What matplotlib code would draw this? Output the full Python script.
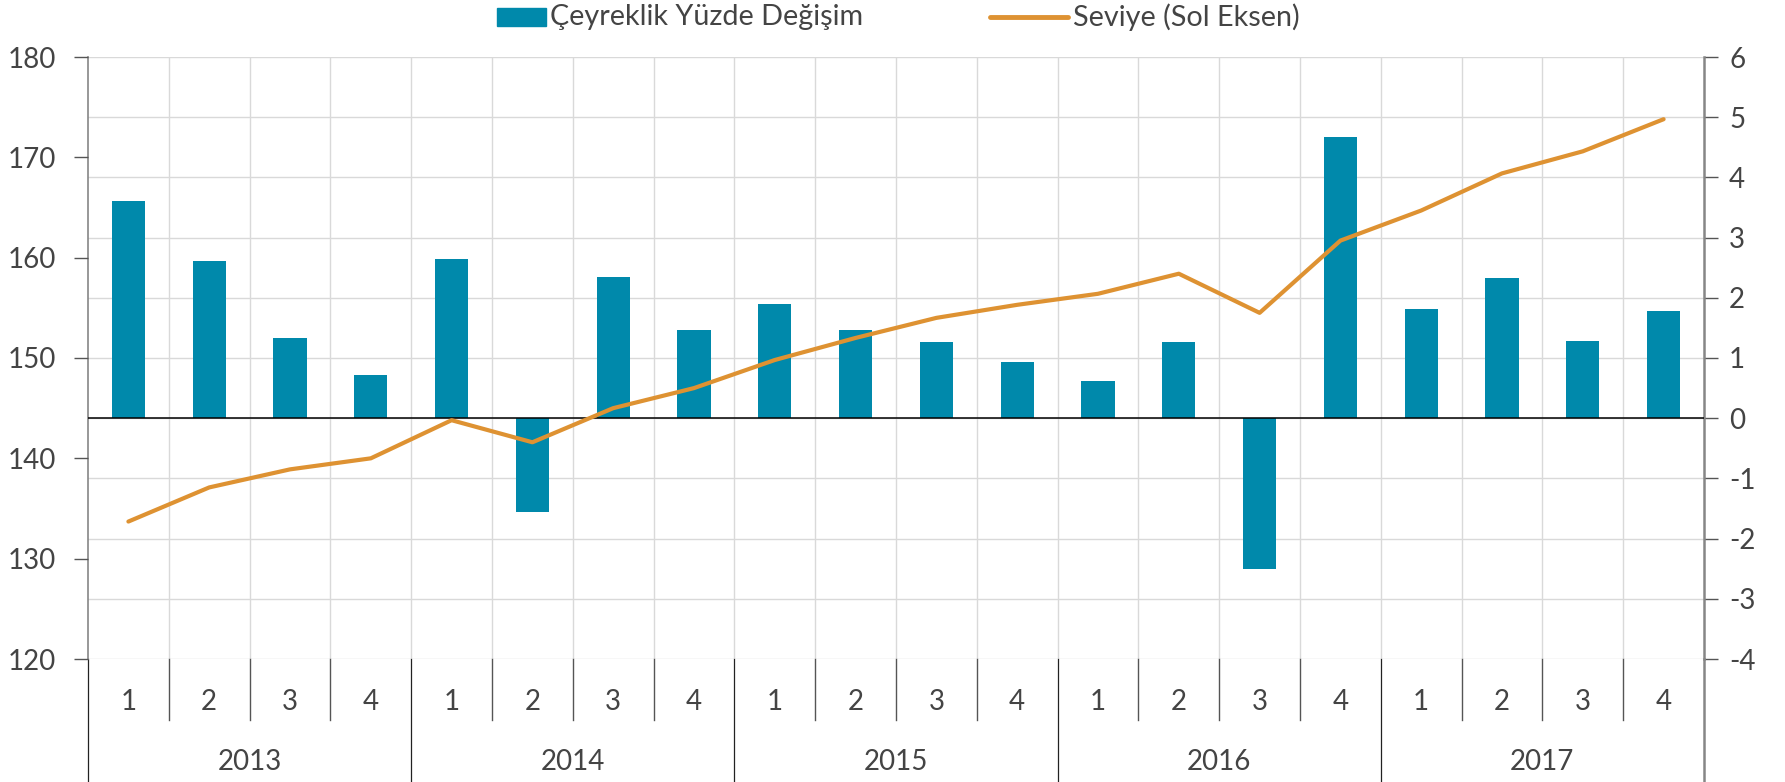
import numpy as np
import matplotlib
matplotlib.use('Agg')
import matplotlib.pyplot as plt
from matplotlib.lines import Line2D
from matplotlib.patches import Rectangle

plt.rcParams['font.family'] = ['Lato', 'DejaVu Sans']
plt.rcParams['axes.unicode_minus'] = False

years = ['2013', '2014', '2015', '2016', '2017']
quarters = ['1', '2', '3', '4'] * 5

# quarterly % change (right axis)
change = [3.61, 2.61, 1.34, 0.72,
          2.65, -1.55, 2.34, 1.47,
          1.89, 1.46, 1.27, 0.93,
          0.62, 1.27, -2.51, 4.67,
          1.81, 2.33, 1.29, 1.78]
# level (left axis)
level = [133.7, 137.1, 138.9, 140.0,
         143.8, 141.6, 145.0, 147.0,
         149.8, 152.0, 154.0, 155.3,
         156.4, 158.4, 154.5, 161.7,
         164.7, 168.4, 170.6, 173.8]

bar_color = '#0089ab'
line_color = '#de9232'
txt_color = '#444444'
W, H = 1785, 782

x = np.arange(len(change))

fig = plt.figure(figsize=(W / 100, H / 100), dpi=100)
ax = fig.add_axes([88 / W, (H - 659) / H, (1704 - 88) / W, (659 - 57) / H])

ax.bar(x, change, width=0.41, color=bar_color, zorder=2)
ax.axhline(0, color='black', lw=1.1, zorder=3)
ax.set_xlim(-0.5, len(change) - 0.5)
ax.set_ylim(-4, 6)
ax.set_yticks(range(-4, 7))
ax.set_xticks([])
ax.set_xticks(np.arange(0.5, len(change) - 1, 1), minor=True)
ax.grid(axis='y', color='#d9d9d9', lw=1, zorder=0)
ax.grid(axis='x', which='minor', color='#d9d9d9', lw=1, zorder=0)
ax.set_axisbelow(True)

ax2 = ax.twinx()
ax2.plot(x, level, color=line_color, lw=3, solid_capstyle='round', zorder=4)
ax2.set_ylim(120, 180)
ax2.set_yticks(range(120, 181, 10))

ax.yaxis.tick_right()
ax2.yaxis.tick_left()
ax.tick_params(axis='y', which='major', length=10, width=1, color='#555555',
               labelsize=20, labelcolor=txt_color, pad=8)
ax.tick_params(axis='x', which='minor', length=0)
ax2.tick_params(axis='y', length=10, width=1, color='#555555',
                labelsize=20, labelcolor=txt_color, pad=13)

for s in ['top', 'bottom']:
    ax.spines[s].set_visible(False)
for s in ax2.spines.values():
    s.set_visible(False)
ax.spines['left'].set_color('#868686')
ax.spines['right'].set_color('#868686')
ax.spines['left'].set_linewidth(1.2)
ax.spines['right'].set_linewidth(1.8)

# category axis below
trans = ax.get_xaxis_transform()
hpx = 659 - 57
q_end = -(720 - 659) / hpx
y_end = -(782 - 659) / hpx
for i in range(len(change)):
    ax.text(x[i], -(702 - 659) / hpx, quarters[i], transform=trans,
            ha='center', va='center', fontsize=20, color=txt_color)
for b in np.arange(0.5, len(change) - 1, 1):
    if (b + 0.5) % 4 != 0:
        ax.plot([b, b], [0, q_end], transform=trans, color='#555555',
                lw=1, clip_on=False)
for k in range(len(years) + 1):
    b = k * 4 - 0.5
    c = '#868686' if k == len(years) else '#222222'
    ax.plot([b, b], [0, y_end], transform=trans, color=c,
            lw=1.8 if k == len(years) else 0.9, clip_on=False)
for k, yr in enumerate(years):
    ax.text(k * 4 + 1.5, -(762 - 659) / hpx, yr, transform=trans,
            ha='center', va='center', fontsize=20, color=txt_color)

# legend
ly = 1 - 17 / H
fig.add_artist(Rectangle((497 / W, ly - 9 / H), 49 / W, 18 / H,
                         transform=fig.transFigure, color=bar_color))
fig.text(550 / W, ly, 'Çeyreklik Yüzde Değişim', ha='left', va='center',
         fontsize=20.7, color=txt_color)
fig.add_artist(Line2D([990 / W, 1068 / W], [ly, ly], transform=fig.transFigure,
                      color=line_color, lw=3.5, solid_capstyle='round'))
fig.text(1073 / W, ly, 'Seviye (Sol Eksen)', ha='left', va='center',
         fontsize=20.7, color=txt_color)

fig.savefig('out.png', dpi=100)
